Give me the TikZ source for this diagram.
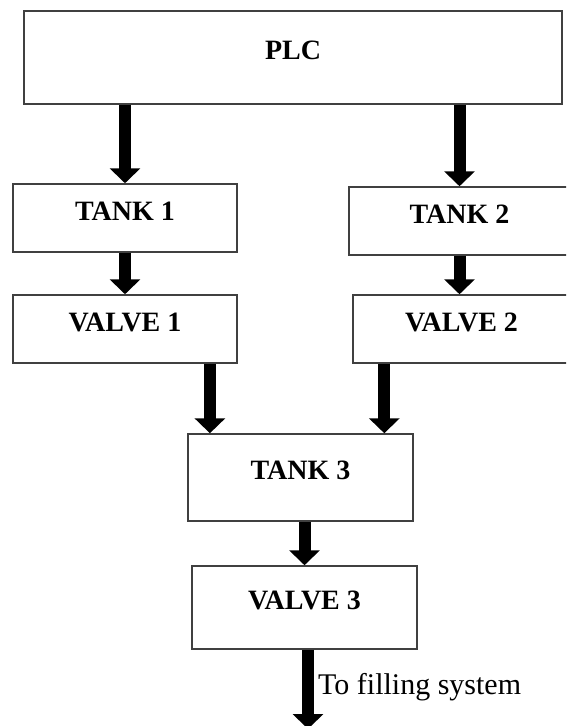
\documentclass[tikz,border=0pt]{standalone}
\usepackage{fontspec}
\setmainfont{Liberation Serif}
\usetikzlibrary{arrows.meta, calc}

\begin{document}
\begin{tikzpicture}[x=1pt, y=-1pt,
    box/.style={draw=black!75, line width=1.5pt, inner sep=0pt, text depth=14pt,
        font=\fontsize{28}{32}\selectfont\bfseries},
    flow/.style={line width=12pt, -{Triangle[width=30pt, length=15pt]}}]
    \useasboundingbox (0,0) rectangle (566,726);
    \clip (0,0) rectangle (566,726);
    \node [box, minimum width=538pt, minimum height=93pt] (plc) at (293,57.5) {PLC};
    \node [box, minimum width=224pt, minimum height=68pt] (tank1) at (125,218) {TANK 1};
    \node [box, minimum width=221pt, minimum height=68pt] (tank2) at (459.5,221) {TANK 2};
    \node [box, minimum width=224pt, minimum height=68pt] (valve1) at (125,329) {VALVE 1};
    \node [box, minimum width=217pt, minimum height=68pt] (valve2) at (461.5,329) {VALVE 2};
    \node [box, minimum width=225pt, minimum height=87pt] (tank3) at (300.5,477.5) {TANK 3};
    \node [box, minimum width=225pt, minimum height=83pt] (valve3) at (304.5,607.5) {VALVE 3};
    \coordinate (in1) at ($(tank3.north west)!0.1!(tank3.north east)$);
    \coordinate (in2) at ($(tank3.north west)!0.87!(tank3.north east)$);
    \coordinate (out) at (308,729);
    \draw [flow] (plc.south -| tank1.north) -- (tank1.north);
    \draw [flow] (plc.south -| tank2.north) -- (tank2.north);
    \draw [flow] (tank1.south) -- (valve1.north);
    \draw [flow] (tank2.south) -- (tank2.south |- valve2.north);
    \draw [flow] (in1 |- valve1.south) -- (in1);
    \draw [flow] (in2 |- valve2.south) -- (in2);
    \draw [flow] (valve3.north |- tank3.south) -- (valve3.north);
    \draw [flow] (valve3.south -| out) -- (out);
    \node [anchor=base west, inner sep=0pt, font=\fontsize{30}{34}\selectfont] (fill) at (318,694) {To filling system};
\end{tikzpicture}
\end{document}
